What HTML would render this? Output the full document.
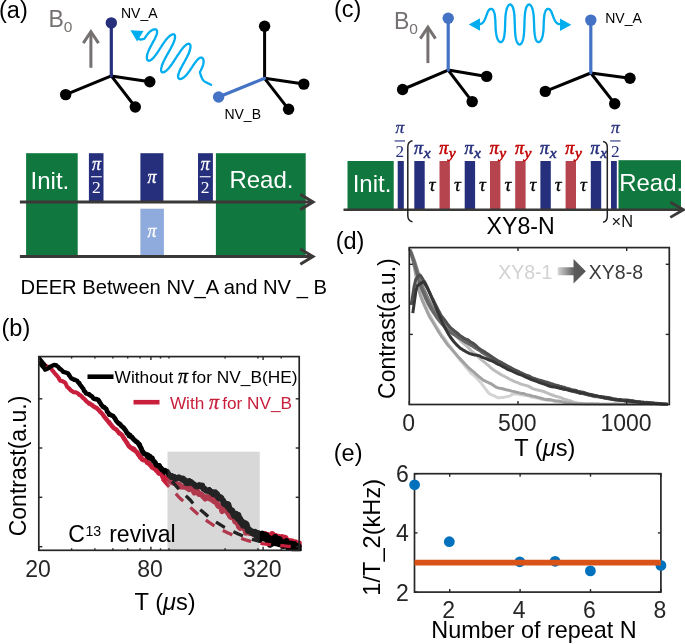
<!DOCTYPE html>
<html lang="en"><head><meta charset="utf-8"><title>Figure</title>
<style>html,body{margin:0;padding:0;background:#fff;}svg{display:block;}text{font-family:"Liberation Sans", sans-serif;}.m{font-family:"Liberation Serif", serif;font-style:italic;}.s{font-family:"Liberation Serif", serif;}.mb{font-family:"Liberation Serif", serif;font-style:italic;font-weight:bold;}</style></head><body>
<svg width="685" height="644" viewBox="0 0 685 644">
<rect width="685" height="644" fill="#fff"/>
<text x="-1" y="18" font-size="23.5" fill="#000">(a)</text>
<text x="1.5" y="336" font-size="23.5" fill="#000">(b)</text>
<text x="334" y="16.6" font-size="23.5" fill="#000">(c)</text>
<text x="335.7" y="248.6" font-size="23.5" fill="#000">(d)</text>
<text x="333.8" y="461.3" font-size="23.5" fill="#000">(e)</text>
<line x1="111.3" y1="75.9" x2="65.7" y2="94.6" stroke="#000" stroke-width="3" stroke-linecap="round"/>
<line x1="111.3" y1="75.9" x2="149.8" y2="81.8" stroke="#000" stroke-width="3" stroke-linecap="round"/>
<line x1="111.3" y1="75.9" x2="135.3" y2="107" stroke="#000" stroke-width="3" stroke-linecap="round"/>
<line x1="111.3" y1="75.9" x2="111.3" y2="22.9" stroke="#252f7c" stroke-width="3.2" stroke-linecap="round"/>
<circle cx="65.7" cy="94.6" r="5.7" fill="#000"/>
<circle cx="149.8" cy="81.8" r="5.7" fill="#000"/>
<circle cx="135.3" cy="107" r="5.7" fill="#000"/>
<circle cx="111.3" cy="22.9" r="5.7" fill="#252f7c"/>
<line x1="264.6" y1="78.3" x2="264.6" y2="26.2" stroke="#000" stroke-width="3" stroke-linecap="round"/>
<line x1="264.6" y1="78.3" x2="303.8" y2="84.1" stroke="#000" stroke-width="3" stroke-linecap="round"/>
<line x1="264.6" y1="78.3" x2="288.6" y2="109.3" stroke="#000" stroke-width="3" stroke-linecap="round"/>
<line x1="264.6" y1="78.3" x2="218.6" y2="97" stroke="#4472c4" stroke-width="3.2" stroke-linecap="round"/>
<circle cx="264.6" cy="26.2" r="5.7" fill="#000"/>
<circle cx="303.8" cy="84.1" r="5.7" fill="#000"/>
<circle cx="288.6" cy="109.3" r="5.7" fill="#000"/>
<circle cx="218.6" cy="97" r="5.7" fill="#4472c4"/>
<line x1="448.2" y1="70.1" x2="402.6" y2="89.5" stroke="#000" stroke-width="3" stroke-linecap="round"/>
<line x1="448.2" y1="70.1" x2="486.7" y2="76.4" stroke="#000" stroke-width="3" stroke-linecap="round"/>
<line x1="448.2" y1="70.1" x2="472.2" y2="101.6" stroke="#000" stroke-width="3" stroke-linecap="round"/>
<line x1="448.2" y1="70.1" x2="448.2" y2="18.2" stroke="#4472c4" stroke-width="3.2" stroke-linecap="round"/>
<circle cx="402.6" cy="89.5" r="5.7" fill="#000"/>
<circle cx="486.7" cy="76.4" r="5.7" fill="#000"/>
<circle cx="472.2" cy="101.6" r="5.7" fill="#000"/>
<circle cx="448.2" cy="18.2" r="5.7" fill="#4472c4"/>
<line x1="590.8" y1="73" x2="545.3" y2="91.4" stroke="#000" stroke-width="3" stroke-linecap="round"/>
<line x1="590.8" y1="73" x2="630" y2="78.3" stroke="#000" stroke-width="3" stroke-linecap="round"/>
<line x1="590.8" y1="73" x2="614.7" y2="103.7" stroke="#000" stroke-width="3" stroke-linecap="round"/>
<line x1="590.8" y1="73" x2="590.8" y2="20.1" stroke="#4472c4" stroke-width="3.2" stroke-linecap="round"/>
<circle cx="545.3" cy="91.4" r="5.7" fill="#000"/>
<circle cx="630" cy="78.3" r="5.7" fill="#000"/>
<circle cx="614.7" cy="103.7" r="5.7" fill="#000"/>
<circle cx="590.8" cy="20.1" r="5.7" fill="#4472c4"/>
<text x="48.5" y="26.8" font-size="23" fill="#767171">B<tspan font-size="15.5" dy="5">0</tspan></text>
<path d="M90.9 67.8 L90.9 31.7" stroke="#767171" stroke-width="3" fill="none"/>
<path d="M83.30000000000001 43.2 L90.9 31.7 L98.5 43.2" stroke="#767171" stroke-width="3" fill="none" stroke-linejoin="miter"/>
<text x="394" y="29.2" font-size="23" fill="#767171">B<tspan font-size="15.5" dy="5">0</tspan></text>
<path d="M427.9 63.1 L427.9 27.2" stroke="#767171" stroke-width="3" fill="none"/>
<path d="M420.29999999999995 38.7 L427.9 27.2 L435.5 38.7" stroke="#767171" stroke-width="3" fill="none" stroke-linejoin="miter"/>
<text x="121" y="17.5" font-size="14" fill="#000">NV_A</text>
<text x="224.4" y="119.2" font-size="14" fill="#000">NV_B</text>
<text x="605.2" y="22.9" font-size="14" fill="#000">NV_A</text>
<polyline points="479.4,24.2 480.0,24.1 480.7,24.0 481.3,23.7 481.9,23.4 482.4,23.0 482.9,22.5 483.4,22.0 483.8,21.4 484.2,20.7 484.6,20.0 484.9,19.3 485.2,18.6 485.6,17.8 485.9,17.0 486.2,16.2 486.4,15.4 486.7,14.7 487.0,13.9 487.3,13.2 487.6,12.5 487.8,11.8 488.1,11.2 488.4,10.7 488.8,10.2 489.1,9.8 489.4,9.5 489.8,9.2 490.2,9.1 490.7,9.0 490.7,9.0 490.8,9.0 491.0,8.9 491.2,8.9 491.3,8.9 491.5,8.9 491.7,9.0 491.9,9.0 492.0,9.1 492.2,9.2 492.4,9.3 492.5,9.4 492.7,9.5 492.8,9.7 493.0,9.8 493.1,10.0 493.3,10.2 493.4,10.4 493.5,10.7 493.6,10.9 493.8,11.2 493.9,11.5 494.0,11.7 494.1,12.1 494.2,12.4 494.3,12.7 494.4,13.1 494.5,13.4 494.6,13.8 494.7,14.2 494.7,14.6 494.8,15.0 494.9,15.4 494.9,15.9 495.0,16.3 495.0,16.7 495.1,17.2 495.1,17.7 495.2,18.2 495.2,18.6 495.2,19.1 495.3,19.6 495.3,20.1 495.3,20.6 495.4,21.1 495.4,21.6 495.4,22.2 495.4,22.7 495.4,23.2 495.5,23.7 495.5,24.2 495.5,24.8 495.5,25.3 495.5,25.8 495.6,26.3 495.6,26.8 495.6,27.4 495.6,27.9 495.6,28.4 495.7,28.9 495.7,29.4 495.7,29.9 495.8,30.4 495.8,30.9 495.9,31.4 495.9,31.8 496.0,32.3 496.0,32.8 496.1,33.2 496.2,33.7 496.2,34.1 496.3,34.6 496.4,35.0 496.5,35.4 496.6,35.8 496.6,36.2 496.7,36.6 496.9,37.0 497.0,37.3 497.1,37.7 497.2,38.0 497.3,38.4 497.4,38.7 497.6,39.0 497.7,39.3 497.9,39.6 498.0,39.9 498.2,40.1 498.3,40.4 498.5,40.6 498.6,40.8 498.8,41.0 499.0,41.2 499.1,41.4 499.3,41.5 499.5,41.6 499.6,41.8 499.8,41.9 500.0,41.9 500.2,42.0 500.3,42.1 500.5,42.1 500.7,42.1 500.9,42.1 501.0,42.1 501.2,42.0 501.4,42.0 501.5,41.9 501.7,41.8 501.9,41.7 502.0,41.5 502.2,41.4 502.3,41.2 502.5,41.0 502.6,40.8 502.8,40.6 502.9,40.3 503.1,40.0 503.2,39.8 503.3,39.5 503.4,39.1 503.6,38.8 503.7,38.5 503.8,38.1 503.9,37.7 504.0,37.3 504.1,36.9 504.2,36.5 504.2,36.0 504.3,35.6 504.4,35.1 504.5,34.6 504.5,34.1 504.6,33.6 504.6,33.1 504.7,32.6 504.7,32.1 504.8,31.5 504.8,31.0 504.9,30.4 504.9,29.9 504.9,29.3 505.0,28.8 505.0,28.2 505.0,27.6 505.0,27.0 505.1,26.4 505.1,25.8 505.1,25.2 505.1,24.6 505.1,24.1 505.1,23.5 505.2,22.9 505.2,22.3 505.2,21.7 505.2,21.1 505.3,20.5 505.3,19.9 505.3,19.3 505.3,18.8 505.4,18.2 505.4,17.6 505.4,17.1 505.5,16.5 505.5,16.0 505.6,15.4 505.6,14.9 505.7,14.4 505.7,13.9 505.8,13.4 505.9,12.9 506.0,12.4 506.0,11.9 506.1,11.5 506.2,11.0 506.3,10.6 506.4,10.1 506.5,9.7 506.6,9.3 506.7,8.9 506.9,8.6 507.0,8.2 507.1,7.9 507.3,7.5 507.4,7.2 507.5,6.9 507.7,6.6 507.8,6.4 508.0,6.1 508.1,5.9 508.3,5.7 508.5,5.5 508.6,5.3 508.8,5.1 509.0,5.0 509.1,4.9 509.3,4.8 509.5,4.7 509.7,4.6 509.8,4.6 510.0,4.5 510.2,4.5 510.4,4.5 510.5,4.6 510.7,4.6 510.9,4.7 511.0,4.8 511.2,4.9 511.4,5.0 511.5,5.2 511.7,5.4 511.9,5.6 512.0,5.8 512.2,6.0 512.3,6.3 512.5,6.5 512.6,6.8 512.7,7.1 512.9,7.5 513.0,7.8 513.1,8.2 513.2,8.5 513.3,8.9 513.4,9.3 513.6,9.8 513.6,10.2 513.7,10.6 513.8,11.1 513.9,11.6 514.0,12.1 514.1,12.6 514.1,13.1 514.2,13.6 514.3,14.2 514.3,14.7 514.4,15.3 514.4,15.9 514.4,16.4 514.5,17.0 514.5,17.6 514.6,18.2 514.6,18.8 514.6,19.4 514.6,20.1 514.7,20.7 514.7,21.3 514.7,21.9 514.7,22.6 514.7,23.2 514.8,23.8 514.8,24.5 514.8,25.1 514.8,25.7 514.8,26.4 514.9,27.0 514.9,27.6 514.9,28.2 514.9,28.9 515.0,29.5 515.0,30.1 515.0,30.7 515.1,31.3 515.1,31.9 515.1,32.5 515.2,33.0 515.2,33.6 515.3,34.2 515.3,34.7 515.4,35.2 515.5,35.8 515.5,36.3 515.6,36.8 515.7,37.3 515.8,37.8 515.9,38.2 516.0,38.7 516.1,39.1 516.2,39.6 516.3,40.0 516.4,40.4 516.5,40.7 516.7,41.1 516.8,41.5 516.9,41.8 517.1,42.1 517.2,42.4 517.4,42.7 517.5,42.9 517.7,43.2 517.8,43.4 518.0,43.6 518.1,43.8 518.3,43.9 518.5,44.1 518.6,44.2 518.8,44.3 519.0,44.4 519.2,44.4 519.3,44.5 519.5,44.5 519.7,44.5 519.9,44.5 520.0,44.4 520.2,44.4 520.4,44.3 520.6,44.2 520.7,44.1 520.9,43.9 521.1,43.8 521.2,43.6 521.4,43.4 521.5,43.2 521.7,42.9 521.8,42.7 522.0,42.4 522.1,42.1 522.3,41.8 522.4,41.5 522.5,41.1 522.7,40.7 522.8,40.4 522.9,40.0 523.0,39.6 523.1,39.1 523.2,38.7 523.3,38.2 523.4,37.8 523.5,37.3 523.6,36.8 523.7,36.3 523.7,35.8 523.8,35.2 523.9,34.7 523.9,34.2 524.0,33.6 524.0,33.0 524.1,32.5 524.1,31.9 524.1,31.3 524.2,30.7 524.2,30.1 524.2,29.5 524.3,28.9 524.3,28.2 524.3,27.6 524.3,27.0 524.4,26.4 524.4,25.7 524.4,25.1 524.4,24.5 524.4,23.8 524.5,23.2 524.5,22.6 524.5,21.9 524.5,21.3 524.5,20.7 524.6,20.1 524.6,19.4 524.6,18.8 524.6,18.2 524.7,17.6 524.7,17.0 524.8,16.4 524.8,15.9 524.8,15.3 524.9,14.7 524.9,14.2 525.0,13.6 525.1,13.1 525.1,12.6 525.2,12.1 525.3,11.6 525.4,11.1 525.5,10.6 525.6,10.2 525.6,9.8 525.8,9.3 525.9,8.9 526.0,8.5 526.1,8.2 526.2,7.8 526.3,7.5 526.5,7.1 526.6,6.8 526.7,6.5 526.9,6.3 527.0,6.0 527.2,5.8 527.3,5.6 527.5,5.4 527.7,5.2 527.8,5.0 528.0,4.9 528.2,4.8 528.3,4.7 528.5,4.6 528.7,4.6 528.8,4.5 529.0,4.5 529.2,4.5 529.4,4.6 529.5,4.6 529.7,4.7 529.9,4.8 530.1,4.9 530.2,5.0 530.4,5.1 530.6,5.3 530.7,5.5 530.9,5.7 531.1,5.9 531.2,6.1 531.4,6.4 531.5,6.6 531.7,6.9 531.8,7.2 531.9,7.5 532.1,7.9 532.2,8.2 532.3,8.6 532.5,8.9 532.6,9.3 532.7,9.7 532.8,10.1 532.9,10.6 533.0,11.0 533.1,11.5 533.2,11.9 533.2,12.4 533.3,12.9 533.4,13.4 533.5,13.9 533.5,14.4 533.6,14.9 533.6,15.4 533.7,16.0 533.7,16.5 533.8,17.1 533.8,17.6 533.8,18.2 533.9,18.8 533.9,19.3 533.9,19.9 533.9,20.5 534.0,21.1 534.0,21.7 534.0,22.3 534.0,22.9 534.1,23.5 534.1,24.1 534.1,24.6 534.1,25.2 534.1,25.8 534.1,26.4 534.2,27.0 534.2,27.6 534.2,28.2 534.2,28.8 534.3,29.3 534.3,29.9 534.3,30.4 534.4,31.0 534.4,31.5 534.5,32.1 534.5,32.6 534.6,33.1 534.6,33.6 534.7,34.1 534.7,34.6 534.8,35.1 534.9,35.6 535.0,36.0 535.0,36.5 535.1,36.9 535.2,37.3 535.3,37.7 535.4,38.1 535.5,38.5 535.6,38.8 535.8,39.1 535.9,39.5 536.0,39.8 536.1,40.0 536.3,40.3 536.4,40.6 536.6,40.8 536.7,41.0 536.9,41.2 537.0,41.4 537.2,41.5 537.3,41.7 537.5,41.8 537.7,41.9 537.8,42.0 538.0,42.0 538.2,42.1 538.3,42.1 538.5,42.1 538.7,42.1 538.9,42.1 539.0,42.0 539.2,41.9 539.4,41.9 539.6,41.8 539.7,41.6 539.9,41.5 540.1,41.4 540.2,41.2 540.4,41.0 540.6,40.8 540.7,40.6 540.9,40.4 541.0,40.1 541.2,39.9 541.3,39.6 541.5,39.3 541.6,39.0 541.8,38.7 541.9,38.4 542.0,38.0 542.1,37.7 542.2,37.3 542.3,37.0 542.5,36.6 542.6,36.2 542.6,35.8 542.7,35.4 542.8,35.0 542.9,34.6 543.0,34.1 543.0,33.7 543.1,33.2 543.2,32.8 543.2,32.3 543.3,31.8 543.3,31.4 543.4,30.9 543.4,30.4 543.5,29.9 543.5,29.4 543.5,28.9 543.6,28.4 543.6,27.9 543.6,27.4 543.6,26.8 543.6,26.3 543.7,25.8 543.7,25.3 543.7,24.8 543.7,24.2 543.7,23.7 543.8,23.2 543.8,22.7 543.8,22.2 543.8,21.6 543.8,21.1 543.9,20.6 543.9,20.1 543.9,19.6 544.0,19.1 544.0,18.6 544.0,18.2 544.1,17.7 544.1,17.2 544.2,16.7 544.2,16.3 544.3,15.9 544.3,15.4 544.4,15.0 544.5,14.6 544.5,14.2 544.6,13.8 544.7,13.4 544.8,13.1 544.9,12.7 545.0,12.4 545.1,12.1 545.2,11.7 545.3,11.5 545.4,11.2 545.6,10.9 545.7,10.7 545.8,10.4 545.9,10.2 546.1,10.0 546.2,9.8 546.4,9.7 546.5,9.5 546.7,9.4 546.8,9.3 547.0,9.2 547.2,9.1 547.3,9.0 547.5,9.0 547.7,8.9 547.9,8.9 548.0,8.9 548.2,8.9 548.4,9.0 548.6,9.0 548.6,9.0 549.0,9.1 549.4,9.2 549.8,9.5 550.1,9.8 550.4,10.2 550.8,10.7 551.1,11.2 551.4,11.8 551.6,12.5 551.9,13.2 552.2,13.9 552.5,14.7 552.8,15.4 553.0,16.2 553.3,17.0 553.6,17.8 554.0,18.6 554.3,19.3 554.6,20.0 555.0,20.7 555.4,21.4 555.8,22.0 556.3,22.5 556.8,23.0 557.3,23.4 557.9,23.7 558.5,24.0 559.2,24.1 559.9,24.2" fill="none" stroke="#00aeef" stroke-width="2.3" stroke-linejoin="round" stroke-linecap="round"/>
<path d="M468.8 24.5 L480 18.3 L480 30.7 Z" fill="#00aeef"/>
<path d="M571.3 24.8 L560 18.6 L560 31 Z" fill="#00aeef"/>
<polyline points="137.3,34.4 137.3,34.8 137.4,35.3 137.5,35.7 137.6,36.1 137.7,36.5 137.8,36.9 137.9,37.2 138.0,37.6 138.2,37.9 138.3,38.2 138.5,38.4 138.7,38.7 138.9,38.9 139.1,39.1 139.4,39.2 139.7,39.3 139.9,39.4 140.2,39.5 140.6,39.5 140.9,39.5 141.2,39.5 141.6,39.4 142.0,39.4 142.3,39.3 142.7,39.2 143.1,39.1 143.5,39.0 144.0,38.8 144.4,38.7 144.4,38.7 144.6,38.3 144.9,38.0 145.1,37.6 145.4,37.2 145.6,36.9 145.8,36.5 146.1,36.2 146.3,35.8 146.6,35.5 146.8,35.1 147.1,34.8 147.4,34.4 147.6,34.1 147.9,33.8 148.1,33.5 148.4,33.2 148.7,32.9 148.9,32.6 149.2,32.4 149.5,32.1 149.7,31.8 150.0,31.6 150.3,31.4 150.6,31.1 150.8,30.9 151.1,30.7 151.4,30.5 151.7,30.4 151.9,30.2 152.2,30.0 152.5,29.9 152.8,29.8 153.0,29.7 153.3,29.6 153.6,29.5 153.8,29.4 154.1,29.4 154.3,29.3 154.6,29.3 154.8,29.3 155.0,29.3 155.2,29.3 155.4,29.3 155.6,29.4 155.8,29.5 156.0,29.5 156.2,29.6 156.3,29.8 156.5,29.9 156.6,30.0 156.7,30.2 156.8,30.4 156.9,30.6 157.0,30.8 157.0,31.0 157.0,31.3 157.1,31.5 157.1,31.8 157.1,32.1 157.0,32.4 157.0,32.7 157.0,33.1 156.9,33.4 156.8,33.8 156.7,34.1 156.6,34.5 156.5,34.9 156.3,35.3 156.2,35.7 156.0,36.1 155.8,36.6 155.6,37.0 155.4,37.5 155.2,37.9 155.0,38.4 154.8,38.8 154.5,39.3 154.3,39.8 154.0,40.3 153.8,40.7 153.5,41.2 153.3,41.7 153.0,42.2 152.7,42.7 152.5,43.2 152.2,43.7 151.9,44.2 151.6,44.7 151.4,45.1 151.1,45.6 150.8,46.1 150.6,46.6 150.3,47.1 150.1,47.6 149.8,48.1 149.6,48.6 149.4,49.0 149.1,49.5 148.9,50.0 148.7,50.4 148.5,50.9 148.3,51.4 148.1,51.8 148.0,52.3 147.8,52.7 147.7,53.1 147.5,53.6 147.4,54.0 147.3,54.4 147.2,54.8 147.1,55.2 147.0,55.6 147.0,56.0 146.9,56.3 146.9,56.7 146.9,57.1 146.8,57.4 146.9,57.7 146.9,58.0 146.9,58.3 146.9,58.6 147.0,58.9 147.1,59.2 147.1,59.4 147.2,59.6 147.3,59.8 147.4,60.0 147.6,60.2 147.7,60.3 147.9,60.4 148.0,60.6 148.2,60.6 148.4,60.7 148.6,60.7 148.8,60.8 149.0,60.8 149.2,60.7 149.5,60.7 149.7,60.6 150.0,60.5 150.2,60.4 150.5,60.3 150.8,60.1 151.1,59.9 151.4,59.7 151.7,59.5 152.0,59.2 152.3,58.9 152.6,58.6 152.9,58.3 153.2,58.0 153.5,57.6 153.9,57.2 154.2,56.9 154.6,56.4 154.9,56.0 155.2,55.6 155.6,55.1 155.9,54.6 156.3,54.2 156.6,53.7 157.0,53.2 157.3,52.7 157.7,52.1 158.0,51.6 158.4,51.1 158.8,50.5 159.1,50.0 159.5,49.4 159.8,48.9 160.2,48.3 160.5,47.7 160.9,47.2 161.3,46.6 161.6,46.1 162.0,45.5 162.3,45.0 162.7,44.5 163.0,43.9 163.4,43.4 163.8,42.9 164.1,42.4 164.5,41.9 164.8,41.4 165.2,40.9 165.5,40.4 165.9,40.0 166.2,39.5 166.6,39.1 166.9,38.7 167.3,38.3 167.6,37.9 168.0,37.6 168.3,37.2 168.7,36.9 169.0,36.6 169.3,36.3 169.7,36.0 170.0,35.7 170.3,35.5 170.6,35.3 170.9,35.1 171.2,34.9 171.5,34.8 171.8,34.6 172.1,34.5 172.4,34.4 172.6,34.4 172.9,34.3 173.1,34.3 173.3,34.3 173.6,34.3 173.8,34.3 173.9,34.4 174.1,34.5 174.3,34.6 174.4,34.7 174.6,34.9 174.7,35.1 174.8,35.3 174.9,35.5 174.9,35.7 175.0,36.0 175.0,36.3 175.0,36.6 175.1,36.9 175.0,37.2 175.0,37.6 175.0,37.9 174.9,38.3 174.8,38.7 174.7,39.2 174.6,39.6 174.5,40.1 174.3,40.5 174.1,41.0 174.0,41.5 173.8,42.0 173.6,42.5 173.3,43.1 173.1,43.6 172.8,44.2 172.6,44.7 172.3,45.3 172.0,45.9 171.7,46.4 171.4,47.0 171.1,47.6 170.8,48.2 170.5,48.8 170.1,49.5 169.8,50.1 169.5,50.7 169.1,51.3 168.8,51.9 168.4,52.5 168.1,53.2 167.7,53.8 167.4,54.4 167.0,55.0 166.7,55.6 166.3,56.3 166.0,56.9 165.7,57.5 165.3,58.1 165.0,58.7 164.7,59.3 164.4,59.9 164.1,60.5 163.8,61.0 163.6,61.6 163.3,62.2 163.1,62.7 162.8,63.3 162.6,63.8 162.4,64.3 162.2,64.8 162.0,65.3 161.9,65.8 161.7,66.3 161.6,66.8 161.5,67.2 161.4,67.6 161.3,68.1 161.2,68.5 161.1,68.9 161.1,69.2 161.1,69.6 161.1,69.9 161.1,70.2 161.1,70.5 161.2,70.8 161.2,71.0 161.3,71.3 161.4,71.5 161.5,71.7 161.7,71.8 161.8,72.0 161.9,72.1 162.1,72.2 162.3,72.3 162.5,72.3 162.7,72.4 162.9,72.4 163.2,72.4 163.4,72.3 163.7,72.2 163.9,72.2 164.2,72.0 164.5,71.9 164.8,71.7 165.1,71.6 165.4,71.3 165.7,71.1 166.0,70.9 166.4,70.6 166.7,70.3 167.0,70.0 167.4,69.6 167.7,69.3 168.1,68.9 168.5,68.5 168.8,68.1 169.2,67.7 169.5,67.2 169.9,66.8 170.3,66.3 170.7,65.8 171.0,65.3 171.4,64.8 171.8,64.3 172.2,63.7 172.5,63.2 172.9,62.6 173.3,62.0 173.7,61.5 174.1,60.9 174.4,60.3 174.8,59.7 175.2,59.1 175.6,58.5 176.0,57.9 176.4,57.3 176.7,56.7 177.1,56.1 177.5,55.5 177.9,55.0 178.3,54.4 178.7,53.8 179.0,53.2 179.4,52.7 179.8,52.1 180.2,51.6 180.5,51.0 180.9,50.5 181.3,50.0 181.6,49.5 182.0,49.1 182.4,48.6 182.7,48.2 183.1,47.7 183.5,47.3 183.8,46.9 184.1,46.6 184.5,46.2 184.8,45.9 185.2,45.6 185.5,45.3 185.8,45.0 186.1,44.8 186.4,44.6 186.7,44.4 187.0,44.2 187.3,44.1 187.5,44.0 187.8,43.9 188.1,43.8 188.3,43.8 188.5,43.7 188.7,43.7 189.0,43.8 189.2,43.8 189.3,43.9 189.5,44.0 189.7,44.1 189.8,44.3 189.9,44.4 190.1,44.6 190.2,44.8 190.2,45.0 190.3,45.3 190.4,45.5 190.4,45.8 190.5,46.1 190.5,46.4 190.5,46.8 190.5,47.1 190.4,47.5 190.4,47.9 190.3,48.2 190.2,48.6 190.2,49.1 190.1,49.5 189.9,49.9 189.8,50.4 189.7,50.8 189.5,51.3 189.3,51.8 189.2,52.3 189.0,52.8 188.8,53.3 188.5,53.8 188.3,54.3 188.1,54.8 187.8,55.4 187.6,55.9 187.3,56.4 187.0,57.0 186.7,57.5 186.4,58.1 186.1,58.6 185.8,59.2 185.5,59.8 185.2,60.3 184.9,60.9 184.6,61.5 184.3,62.0 184.0,62.6 183.7,63.2 183.3,63.7 183.0,64.3 182.7,64.9 182.4,65.4 182.1,66.0 181.8,66.5 181.5,67.1 181.2,67.6 181.0,68.2 180.7,68.7 180.4,69.2 180.2,69.7 180.0,70.2 179.7,70.7 179.5,71.2 179.3,71.7 179.1,72.2 179.0,72.6 178.8,73.1 178.7,73.5 178.5,73.9 178.4,74.4 178.3,74.7 178.3,75.1 178.2,75.5 178.2,75.8 178.1,76.2 178.1,76.5 178.1,76.8 178.1,77.1 178.2,77.3 178.2,77.6 178.3,77.8 178.4,78.0 178.5,78.2 178.6,78.3 178.8,78.5 178.9,78.6 179.1,78.7 179.2,78.8 179.4,78.9 179.6,79.0 179.8,79.0 180.0,79.0 180.3,79.0 180.5,79.0 180.8,78.9 181.0,78.9 181.3,78.8 181.6,78.7 181.8,78.6 182.1,78.4 182.4,78.3 182.7,78.1 183.0,78.0 183.3,77.8 183.6,77.5 183.9,77.3 184.2,77.1 184.5,76.8 184.8,76.5 185.1,76.3 185.4,76.0 185.7,75.6 186.0,75.3 186.4,75.0 186.7,74.6 187.0,74.3 187.3,73.9 187.6,73.5 187.9,73.1 188.2,72.7 188.5,72.3 188.8,71.9 189.1,71.5 189.4,71.1 189.7,70.6 190.0,70.2 190.3,69.7 190.6,69.3 190.9,68.8 191.2,68.4 191.5,67.9 191.8,67.5 192.1,67.0 192.4,66.6 192.7,66.1 193.0,65.7 193.3,65.2 193.6,64.8 193.9,64.3 194.2,63.9 194.5,63.5 194.8,63.1 195.1,62.6 195.4,62.3 195.7,61.9 196.0,61.5 196.2,61.1 196.5,60.8 196.8,60.5 197.1,60.1 197.4,59.8 197.7,59.6 197.9,59.3 198.2,59.0 198.5,58.8 198.8,58.6 199.0,58.4 199.3,58.2 199.5,58.1 199.8,57.9 200.0,57.8 200.3,57.7 200.5,57.7 200.7,57.6 200.9,57.6 201.1,57.6 201.3,57.6 201.5,57.6 201.7,57.6 201.9,57.7 202.1,57.8 202.2,57.9 202.4,58.0 202.5,58.2 202.7,58.3 202.8,58.5 202.9,58.7 203.0,58.8 203.1,59.1 203.2,59.3 203.3,59.5 203.4,59.8 203.4,60.0 203.5,60.3 203.5,60.6 203.6,60.8 203.6,61.1 203.6,61.4 203.6,61.7 203.6,62.1 203.6,62.4 203.5,62.7 203.5,63.0 203.4,63.4 203.4,63.7 203.3,64.0 203.2,64.4 203.1,64.7 203.0,65.1 202.9,65.4 202.8,65.8 202.7,66.2 202.6,66.5 202.4,66.9 202.3,67.2 202.1,67.6 201.9,68.0 201.8,68.3 201.6,68.7 201.4,69.1 201.2,69.4 201.1,69.8 200.9,70.2 200.7,70.6 200.5,70.9 200.3,71.3 200.1,71.7 199.9,72.0 199.9,72.0 200.0,72.6 200.2,73.1 200.3,73.7 200.5,74.2 200.7,74.8 200.8,75.3 201.0,75.8 201.2,76.3 201.4,76.8 201.6,77.3 201.8,77.8 202.0,78.2 202.2,78.6 202.5,79.1 202.7,79.5 203.0,79.8 203.2,80.2 203.5,80.5 203.8,80.8 204.1,81.1 204.5,81.4 204.8,81.6 205.2,81.9 205.5,82.0 205.9,82.2 206.3,82.4 206.6,82.6 207.0,82.8 207.4,83.0 207.8,83.2 208.1,83.4 208.5,83.6 208.9,83.7 209.3,83.9 209.6,84.1 210.0,84.3 210.4,84.5 210.8,84.7 211.1,84.9" fill="none" stroke="#00aeef" stroke-width="2.3" stroke-linejoin="round" stroke-linecap="round"/>
<path d="M130.4 30.3 L143.5 30.9 L137.1 41.5 Z" fill="#00aeef"/>
<rect x="26.1" y="153.2" width="51.6" height="102.6" fill="#10783e"/>
<rect x="215.9" y="153.2" width="89.8" height="102.6" fill="#10783e"/>
<rect x="88.9" y="153.2" width="14.6" height="48" fill="#252f7c"/>
<rect x="140.4" y="153.2" width="23" height="48" fill="#252f7c"/>
<rect x="198" y="153.2" width="14.9" height="48" fill="#252f7c"/>
<rect x="140.4" y="208.7" width="23.5" height="47" fill="#8faadc"/>
<path d="M19.9 202 L312.5 202" stroke="#3b3838" stroke-width="3" fill="none"/>
<path d="M300.3 194.4 L313 202 L300.3 209.6" stroke="#3b3838" stroke-width="3" fill="none"/>
<path d="M19.9 256.6 L312.5 256.6" stroke="#3b3838" stroke-width="3" fill="none"/>
<path d="M300.3 249.00000000000003 L313 256.6 L300.3 264.20000000000005" stroke="#3b3838" stroke-width="3" fill="none"/>
<text x="30.6" y="188.9" font-size="24" fill="#fff">Init.</text>
<text x="229.4" y="187.9" font-size="24" fill="#fff">Read.</text>
<text class="m" x="96.4" y="169.8" font-size="18" fill="#fff" stroke="#fff" stroke-width="0.3" text-anchor="middle">π</text>
<rect x="91.0" y="176.2" width="10.8" height="1.1" fill="#fff"/>
<text x="96.4" y="193.2" font-size="17.5" fill="#fff" text-anchor="middle" class="s">2</text>
<text class="m" x="205.2" y="169.8" font-size="18" fill="#fff" stroke="#fff" stroke-width="0.3" text-anchor="middle">π</text>
<rect x="199.79999999999998" y="176.2" width="10.8" height="1.1" fill="#fff"/>
<text x="205.2" y="193.2" font-size="17.5" fill="#fff" text-anchor="middle" class="s">2</text>
<text class="m" x="152" y="183.4" font-size="18" fill="#fff" stroke="#fff" stroke-width="0.3" text-anchor="middle">π</text>
<text class="m" x="152" y="236.6" font-size="18" fill="#fff" stroke="#fff" stroke-width="0.3" text-anchor="middle">π</text>
<text x="20.6" y="293.5" font-size="20.2" fill="#000">DEER Between NV_A and NV _ B</text>
<rect x="347.5" y="161" width="46.2" height="48" fill="#10783e"/>
<rect x="618.5" y="160.2" width="62.5" height="49" fill="#10783e"/>
<rect x="397.7" y="161" width="6.1" height="48" fill="#252f7c"/>
<rect x="611" y="161" width="5.8" height="48" fill="#252f7c"/>
<rect x="414.3" y="161" width="10.4" height="48" fill="#252f7c"/>
<text x="414.0" y="154" font-size="18" fill="#252f7c" stroke="#252f7c" stroke-width="0.55" class="m">π<tspan font-size="15.5" dy="3.6" dx="0.6">x</tspan></text>
<text class="m" x="432.1" y="191" font-size="19" fill="#000" stroke="#000" stroke-width="0.3" text-anchor="middle">τ</text>
<rect x="439.5" y="161" width="10.4" height="48" fill="#b5444f"/>
<text x="439.2" y="154" font-size="18" fill="#c00000" stroke="#c00000" stroke-width="0.55" class="m">π<tspan font-size="15.5" dy="3.6" dx="0.6">y</tspan></text>
<text class="m" x="457.3" y="191" font-size="19" fill="#000" stroke="#000" stroke-width="0.3" text-anchor="middle">τ</text>
<rect x="464.7" y="161" width="10.4" height="48" fill="#252f7c"/>
<text x="464.4" y="154" font-size="18" fill="#252f7c" stroke="#252f7c" stroke-width="0.55" class="m">π<tspan font-size="15.5" dy="3.6" dx="0.6">x</tspan></text>
<text class="m" x="482.5" y="191" font-size="19" fill="#000" stroke="#000" stroke-width="0.3" text-anchor="middle">τ</text>
<rect x="490.0" y="161" width="10.4" height="48" fill="#b5444f"/>
<text x="489.7" y="154" font-size="18" fill="#c00000" stroke="#c00000" stroke-width="0.55" class="m">π<tspan font-size="15.5" dy="3.6" dx="0.6">y</tspan></text>
<text class="m" x="507.8" y="191" font-size="19" fill="#000" stroke="#000" stroke-width="0.3" text-anchor="middle">τ</text>
<rect x="515.2" y="161" width="10.4" height="48" fill="#b5444f"/>
<text x="514.9" y="154" font-size="18" fill="#c00000" stroke="#c00000" stroke-width="0.55" class="m">π<tspan font-size="15.5" dy="3.6" dx="0.6">y</tspan></text>
<text class="m" x="533.0" y="191" font-size="19" fill="#000" stroke="#000" stroke-width="0.3" text-anchor="middle">τ</text>
<rect x="540.4" y="161" width="10.4" height="48" fill="#252f7c"/>
<text x="540.1" y="154" font-size="18" fill="#252f7c" stroke="#252f7c" stroke-width="0.55" class="m">π<tspan font-size="15.5" dy="3.6" dx="0.6">x</tspan></text>
<text class="m" x="558.2" y="191" font-size="19" fill="#000" stroke="#000" stroke-width="0.3" text-anchor="middle">τ</text>
<rect x="565.6" y="161" width="10.4" height="48" fill="#b5444f"/>
<text x="565.3" y="154" font-size="18" fill="#c00000" stroke="#c00000" stroke-width="0.55" class="m">π<tspan font-size="15.5" dy="3.6" dx="0.6">y</tspan></text>
<text class="m" x="583.4" y="191" font-size="19" fill="#000" stroke="#000" stroke-width="0.3" text-anchor="middle">τ</text>
<rect x="590.8" y="161" width="10.4" height="48" fill="#252f7c"/>
<text x="590.5" y="154" font-size="18" fill="#252f7c" stroke="#252f7c" stroke-width="0.55" class="m">π<tspan font-size="15.5" dy="3.6" dx="0.6">x</tspan></text>
<path d="M343.5 209.8 L683 209.8" stroke="#3b3838" stroke-width="2.6" fill="none"/>
<path d="M670.3 202.3 L683.4 209.8 L670.3 217.4" stroke="#3b3838" stroke-width="2.8" fill="none"/>
<path d="M412.5 140.8 Q407.8 141.5 407.8 147 L407.8 215.5 Q407.8 221 412.5 221.8" stroke="#222" stroke-width="1.5" fill="none"/>
<path d="M603 141.5 Q607.3 142 607.3 147.5 L607.3 216 Q607.3 221.5 603 222.2" stroke="#222" stroke-width="1.5" fill="none"/>
<text class="m" x="399.8" y="133" font-size="17.5" fill="#252f7c" stroke="#252f7c" stroke-width="0.3" text-anchor="middle">π</text>
<rect x="394.6" y="140.4" width="10.4" height="1.1" fill="#252f7c"/>
<text x="399.8" y="156.7" font-size="17.3" fill="#252f7c" text-anchor="middle" class="s">2</text>
<text class="m" x="615.3" y="133" font-size="17.5" fill="#252f7c" stroke="#252f7c" stroke-width="0.3" text-anchor="middle">π</text>
<rect x="610.0999999999999" y="140.4" width="10.4" height="1.1" fill="#252f7c"/>
<text x="615.3" y="156.7" font-size="17.3" fill="#252f7c" text-anchor="middle" class="s">2</text>
<text x="352.7" y="191.8" font-size="24" fill="#fff">Init.</text>
<text x="619.2" y="190.6" font-size="24" fill="#fff">Read.</text>
<text x="486.6" y="233.7" font-size="23.1" fill="#000">XY8-N</text>
<text x="611.6" y="227.3" font-size="16.4" fill="#111">×N</text>
<clipPath id="cb"><rect x="38.8" y="356.6" width="262.9" height="194.69999999999993"/></clipPath>
<g clip-path="url(#cb)">
<polyline points="39.2,362.5 40.2,362.3 41.2,363.1 42.2,363.7 43.2,363.8 44.2,364.4 45.2,365.6 46.2,366.0 47.2,366.4 48.2,367.4 49.2,367.5" fill="none" stroke="#c8203c" stroke-width="4.01" stroke-linejoin="round" stroke-linecap="round"/>
<polyline points="49.2,367.5 50.2,368.1 51.2,368.7 52.2,370.2 53.2,371.2 54.2,372.7 55.2,373.7 56.2,375.0 57.2,376.0 58.2,377.2 59.2,379.0" fill="none" stroke="#c8203c" stroke-width="4.05" stroke-linejoin="round" stroke-linecap="round"/>
<polyline points="59.2,379.0 60.2,380.7 61.2,380.9 62.2,381.1 63.2,381.7 64.2,382.0 65.2,382.8 66.2,384.7 67.2,387.0 68.2,387.6 69.2,388.6" fill="none" stroke="#c8203c" stroke-width="4.10" stroke-linejoin="round" stroke-linecap="round"/>
<polyline points="69.2,388.6 70.2,389.7 71.2,390.7 72.2,391.2 73.2,392.0 74.2,392.3 75.2,392.2 76.2,392.6 77.2,392.9 78.2,393.6 79.2,394.7" fill="none" stroke="#c8203c" stroke-width="4.16" stroke-linejoin="round" stroke-linecap="round"/>
<polyline points="79.2,394.7 80.2,395.1 81.2,395.9 82.2,397.0 83.2,398.1 84.2,398.7 85.2,400.0 86.2,401.0 87.2,402.0 88.2,402.6 89.2,403.6" fill="none" stroke="#c8203c" stroke-width="4.24" stroke-linejoin="round" stroke-linecap="round"/>
<polyline points="89.2,403.6 90.2,403.7 91.2,404.8 92.2,404.8 93.2,406.5 94.2,406.5 95.2,407.5 96.2,407.6 97.2,408.6 98.2,409.6 99.2,410.5" fill="none" stroke="#c8203c" stroke-width="4.32" stroke-linejoin="round" stroke-linecap="round"/>
<polyline points="99.2,410.5 100.2,411.8 101.2,412.7 102.2,413.7 103.2,415.1 104.2,416.7 105.2,417.8 106.2,419.1 107.2,420.1 108.2,421.6 109.2,422.5" fill="none" stroke="#c8203c" stroke-width="4.41" stroke-linejoin="round" stroke-linecap="round"/>
<polyline points="109.2,422.5 110.2,424.0 111.2,424.9 112.2,426.4 113.2,427.4 114.2,428.5 115.2,428.9 116.2,429.4 117.2,430.8 118.2,431.8 119.2,433.2" fill="none" stroke="#c8203c" stroke-width="4.51" stroke-linejoin="round" stroke-linecap="round"/>
<polyline points="119.2,433.2 120.2,433.6 121.2,434.3 122.2,435.5 123.2,437.1 124.2,438.9 125.2,440.2 126.2,441.7 127.2,443.3 128.2,445.0 129.2,446.4" fill="none" stroke="#c8203c" stroke-width="4.62" stroke-linejoin="round" stroke-linecap="round"/>
<polyline points="129.2,446.4 130.2,447.1 131.2,448.2 132.2,448.2 133.2,449.6 134.2,449.2 135.2,450.8 136.2,451.6 137.2,452.5 138.2,454.6 139.2,455.0" fill="none" stroke="#c8203c" stroke-width="4.73" stroke-linejoin="round" stroke-linecap="round"/>
<polyline points="139.2,455.0 140.2,457.3 141.2,457.9 142.2,459.4 143.2,460.0 144.2,459.9 145.2,460.4 146.2,460.5 147.2,462.7 148.2,462.9 149.2,463.8" fill="none" stroke="#c8203c" stroke-width="4.85" stroke-linejoin="round" stroke-linecap="round"/>
<polyline points="149.2,463.8 150.2,464.9 151.2,465.7 152.2,467.4 153.2,467.6 154.2,468.7 155.2,468.6 156.2,470.4 157.2,470.8 158.2,472.5 159.2,473.1" fill="none" stroke="#c8203c" stroke-width="4.97" stroke-linejoin="round" stroke-linecap="round"/>
<polyline points="159.2,473.1 160.2,472.6 161.2,473.4 162.2,475.5 163.2,477.7 164.2,477.1 165.2,477.5 166.2,478.6 167.2,478.5 168.2,479.9 169.2,480.3" fill="none" stroke="#c8203c" stroke-width="5.10" stroke-linejoin="round" stroke-linecap="round"/>
<polyline points="169.2,480.3 170.2,481.8 171.2,481.8 172.2,482.7 173.2,482.8 174.2,482.7 175.2,483.6 176.2,483.3 177.2,484.3 178.2,484.2 179.2,484.7" fill="none" stroke="#c8203c" stroke-width="5.24" stroke-linejoin="round" stroke-linecap="round"/>
<polyline points="179.2,484.7 180.2,486.8 181.2,486.3 182.2,486.8 183.2,487.0 184.2,486.7 185.2,487.2 186.2,487.7 187.2,488.3 188.2,487.6 189.2,489.3" fill="none" stroke="#c8203c" stroke-width="5.38" stroke-linejoin="round" stroke-linecap="round"/>
<polyline points="189.2,489.3 190.2,488.4 191.2,488.7 192.2,489.5 193.2,490.3 194.2,492.8 195.2,490.6 196.2,492.3 197.2,490.5 198.2,493.0 199.2,494.0" fill="none" stroke="#c8203c" stroke-width="5.52" stroke-linejoin="round" stroke-linecap="round"/>
<polyline points="199.2,494.0 200.2,494.0 201.2,494.2 202.2,495.3 203.2,496.6 204.2,497.2 205.2,498.7 206.2,497.4 207.2,496.9 208.2,497.5 209.2,498.0" fill="none" stroke="#c8203c" stroke-width="5.67" stroke-linejoin="round" stroke-linecap="round"/>
<polyline points="209.2,498.0 210.2,498.9 211.2,498.9 212.2,499.8 213.2,498.4 214.2,501.2 215.2,500.6 216.2,501.4 217.2,504.1 218.2,505.8 219.2,505.9" fill="none" stroke="#c8203c" stroke-width="5.83" stroke-linejoin="round" stroke-linecap="round"/>
<polyline points="219.2,505.9 220.2,506.8 221.2,506.4 222.2,511.1 223.2,509.6 224.2,508.4 225.2,508.9 226.2,510.6 227.2,509.8 228.2,513.0 229.2,513.4" fill="none" stroke="#c8203c" stroke-width="5.98" stroke-linejoin="round" stroke-linecap="round"/>
<polyline points="229.2,513.4 230.2,516.2 231.2,516.9 232.2,513.4 233.2,517.6 234.2,516.5 235.2,521.3 236.2,521.0 237.2,523.0 238.2,522.1 239.2,526.5" fill="none" stroke="#c8203c" stroke-width="6.15" stroke-linejoin="round" stroke-linecap="round"/>
<polyline points="239.2,526.5 240.2,527.7 241.2,524.8 242.2,527.2 243.2,526.4 244.2,528.5 245.2,527.6 246.2,532.5 247.2,529.6 248.2,531.1 249.2,532.4" fill="none" stroke="#c8203c" stroke-width="6.31" stroke-linejoin="round" stroke-linecap="round"/>
<polyline points="249.2,532.4 250.2,531.4 251.2,532.5 252.2,532.4 253.2,533.5 254.2,532.5 255.2,533.9 256.2,534.6 257.2,534.7 258.2,535.7 259.2,535.4" fill="none" stroke="#c8203c" stroke-width="6.48" stroke-linejoin="round" stroke-linecap="round"/>
<polyline points="259.2,535.4 260.2,537.1 261.2,535.7 262.2,536.0 263.2,535.2 264.2,535.6 265.2,534.6 266.2,537.3 267.2,535.1 268.2,535.9 269.2,537.6" fill="none" stroke="#c8203c" stroke-width="6.66" stroke-linejoin="round" stroke-linecap="round"/>
<polyline points="269.2,537.6 270.2,537.8 271.2,536.8 272.2,534.5 273.2,538.4 274.2,538.4 275.2,536.2 276.2,539.8 277.2,537.7 278.2,537.3 279.2,539.5" fill="none" stroke="#c8203c" stroke-width="6.84" stroke-linejoin="round" stroke-linecap="round"/>
<polyline points="279.2,539.5 280.2,539.3 281.2,540.3 282.2,537.5 283.2,543.3 284.2,539.6 285.2,538.4 286.2,542.2 287.2,541.0 288.2,542.5 289.2,541.7" fill="none" stroke="#c8203c" stroke-width="7.02" stroke-linejoin="round" stroke-linecap="round"/>
<polyline points="289.2,541.7 290.2,542.6 291.2,543.5 292.2,542.1 293.2,544.9 294.2,543.3 295.2,542.9 296.2,544.9 297.2,546.0 298.2,545.1 299.2,544.2" fill="none" stroke="#c8203c" stroke-width="7.21" stroke-linejoin="round" stroke-linecap="round"/>
<polyline points="39.2,363.6 40.2,363.2 41.2,364.7 42.2,365.9 43.2,366.9 44.2,368.2 45.2,369.8 46.2,369.2 47.2,368.9 48.2,368.3 49.2,367.5" fill="none" stroke="#000" stroke-width="4.21" stroke-linejoin="round" stroke-linecap="round"/>
<polyline points="49.2,367.5 50.2,366.6 51.2,366.4 52.2,365.5 53.2,365.4 54.2,364.8 55.2,365.2 56.2,365.1 57.2,366.3 58.2,366.9 59.2,368.2" fill="none" stroke="#000" stroke-width="4.25" stroke-linejoin="round" stroke-linecap="round"/>
<polyline points="59.2,368.2 60.2,369.0 61.2,369.8 62.2,370.6 63.2,371.9 64.2,372.2 65.2,372.4 66.2,372.6 67.2,373.3 68.2,373.4 69.2,375.3" fill="none" stroke="#000" stroke-width="4.30" stroke-linejoin="round" stroke-linecap="round"/>
<polyline points="69.2,375.3 70.2,376.8 71.2,378.2 72.2,378.7 73.2,379.2 74.2,379.8 75.2,379.8 76.2,380.4 77.2,380.8 78.2,382.5 79.2,383.2" fill="none" stroke="#000" stroke-width="4.36" stroke-linejoin="round" stroke-linecap="round"/>
<polyline points="79.2,383.2 80.2,384.9 81.2,386.0 82.2,387.7 83.2,388.6 84.2,391.1 85.2,391.8 86.2,393.6 87.2,393.6 88.2,394.3 89.2,394.4" fill="none" stroke="#000" stroke-width="4.44" stroke-linejoin="round" stroke-linecap="round"/>
<polyline points="89.2,394.4 90.2,395.4 91.2,395.9 92.2,396.6 93.2,398.2 94.2,398.9 95.2,399.2 96.2,398.9 97.2,399.6 98.2,399.7 99.2,401.5" fill="none" stroke="#000" stroke-width="4.52" stroke-linejoin="round" stroke-linecap="round"/>
<polyline points="99.2,401.5 100.2,402.8 101.2,404.8 102.2,405.7 103.2,407.0 104.2,407.0 105.2,408.3 106.2,408.8 107.2,411.6 108.2,412.6 109.2,414.5" fill="none" stroke="#000" stroke-width="4.61" stroke-linejoin="round" stroke-linecap="round"/>
<polyline points="109.2,414.5 110.2,414.7 111.2,415.2 112.2,415.6 113.2,416.1 114.2,417.5 115.2,418.7 116.2,420.9 117.2,421.9 118.2,423.1 119.2,423.7" fill="none" stroke="#000" stroke-width="4.71" stroke-linejoin="round" stroke-linecap="round"/>
<polyline points="119.2,423.7 120.2,424.5 121.2,425.8 122.2,426.6 123.2,427.4 124.2,428.6 125.2,429.8 126.2,431.3 127.2,433.3 128.2,433.7 129.2,435.8" fill="none" stroke="#000" stroke-width="4.82" stroke-linejoin="round" stroke-linecap="round"/>
<polyline points="129.2,435.8 130.2,435.4 131.2,437.1 132.2,437.4 133.2,438.8 134.2,439.8 135.2,440.7 136.2,441.6 137.2,442.2 138.2,443.3 139.2,444.4" fill="none" stroke="#000" stroke-width="4.93" stroke-linejoin="round" stroke-linecap="round"/>
<polyline points="139.2,444.4 140.2,446.6 141.2,448.5 142.2,451.1 143.2,452.2 144.2,453.9 145.2,454.2 146.2,454.3 147.2,456.2 148.2,455.3 149.2,457.7" fill="none" stroke="#000" stroke-width="5.05" stroke-linejoin="round" stroke-linecap="round"/>
<polyline points="149.2,457.7 150.2,456.5 151.2,458.8 152.2,458.2 153.2,460.7 154.2,461.5 155.2,462.7 156.2,465.0 157.2,465.2 158.2,466.0 159.2,465.9" fill="none" stroke="#000" stroke-width="5.17" stroke-linejoin="round" stroke-linecap="round"/>
<polyline points="159.2,465.9 160.2,467.3 161.2,468.3 162.2,469.7 163.2,470.4 164.2,470.3 165.2,470.6 166.2,471.1 167.2,471.5 168.2,473.2 169.2,474.8" fill="none" stroke="#000" stroke-width="5.30" stroke-linejoin="round" stroke-linecap="round"/>
<polyline points="169.2,474.8 170.2,476.0 171.2,477.2 172.2,475.9 173.2,477.6 174.2,476.8 175.2,479.3 176.2,477.7 177.2,478.4 178.2,477.2 179.2,477.5" fill="none" stroke="#000" stroke-width="5.44" stroke-linejoin="round" stroke-linecap="round"/>
<polyline points="179.2,477.5 180.2,478.6 181.2,478.4 182.2,479.7 183.2,478.4 184.2,481.0 185.2,480.1 186.2,483.2 187.2,481.5 188.2,483.4 189.2,481.1" fill="none" stroke="#000" stroke-width="5.58" stroke-linejoin="round" stroke-linecap="round"/>
<polyline points="189.2,481.1 190.2,483.0 191.2,482.1 192.2,483.1 193.2,483.9 194.2,484.4 195.2,485.6 196.2,486.5 197.2,486.6 198.2,486.1 199.2,485.2" fill="none" stroke="#000" stroke-width="5.72" stroke-linejoin="round" stroke-linecap="round"/>
<polyline points="199.2,485.2 200.2,485.5 201.2,486.6 202.2,485.5 203.2,488.7 204.2,488.4 205.2,489.4 206.2,490.9 207.2,490.9 208.2,491.0 209.2,490.2" fill="none" stroke="#000" stroke-width="5.87" stroke-linejoin="round" stroke-linecap="round"/>
<polyline points="209.2,490.2 210.2,491.8 211.2,492.6 212.2,492.2 213.2,494.3 214.2,494.3 215.2,492.3 216.2,495.0 217.2,494.3 218.2,497.7 219.2,498.0" fill="none" stroke="#000" stroke-width="6.03" stroke-linejoin="round" stroke-linecap="round"/>
<polyline points="219.2,498.0 220.2,497.1 221.2,497.9 222.2,500.0 223.2,500.9 224.2,503.9 225.2,504.3 226.2,504.0 227.2,506.0 228.2,504.3 229.2,508.2" fill="none" stroke="#000" stroke-width="6.18" stroke-linejoin="round" stroke-linecap="round"/>
<polyline points="229.2,508.2 230.2,509.9 231.2,510.2 232.2,510.9 233.2,513.3 234.2,515.8 235.2,515.0 236.2,514.1 237.2,518.0 238.2,515.0 239.2,519.5" fill="none" stroke="#000" stroke-width="6.35" stroke-linejoin="round" stroke-linecap="round"/>
<polyline points="239.2,519.5 240.2,519.1 241.2,522.7 242.2,521.7 243.2,525.4 244.2,524.9 245.2,523.4 246.2,524.1 247.2,527.2 248.2,530.6 249.2,530.2" fill="none" stroke="#000" stroke-width="6.51" stroke-linejoin="round" stroke-linecap="round"/>
<polyline points="249.2,530.2 250.2,531.1 251.2,531.2 252.2,533.0 253.2,532.9 254.2,533.4 255.2,532.2 256.2,535.5 257.2,536.5 258.2,533.4 259.2,538.8" fill="none" stroke="#000" stroke-width="6.68" stroke-linejoin="round" stroke-linecap="round"/>
<polyline points="259.2,538.8 260.2,536.8 261.2,535.7 262.2,534.0 263.2,538.0 264.2,538.1 265.2,537.0 266.2,535.5 267.2,540.0 268.2,538.1 269.2,538.9" fill="none" stroke="#000" stroke-width="6.86" stroke-linejoin="round" stroke-linecap="round"/>
<polyline points="269.2,538.9 270.2,544.2 271.2,543.5 272.2,542.1 273.2,539.9 274.2,541.9 275.2,537.5 276.2,541.6 277.2,540.4 278.2,540.1 279.2,539.9" fill="none" stroke="#000" stroke-width="7.04" stroke-linejoin="round" stroke-linecap="round"/>
<polyline points="279.2,539.9 280.2,543.7 281.2,543.5 282.2,544.0 283.2,545.3 284.2,542.8 285.2,542.4 286.2,541.8 287.2,544.5 288.2,546.7 289.2,545.4" fill="none" stroke="#000" stroke-width="7.22" stroke-linejoin="round" stroke-linecap="round"/>
<polyline points="289.2,545.4 290.2,547.1 291.2,544.2 292.2,545.7 293.2,545.5 294.2,544.9 295.2,550.7 296.2,549.2 297.2,546.6 298.2,546.9 299.2,548.3" fill="none" stroke="#000" stroke-width="7.41" stroke-linejoin="round" stroke-linecap="round"/>
<line x1="38.8" y1="356.8" x2="46" y2="366" stroke="#000" stroke-width="3"/>
<polyline points="160.2,469.2 162.2,470.7 164.2,472.9 166.2,475.1 168.2,477.3 170.2,479.5 172.2,481.7 174.2,483.9 176.2,486.1 178.2,488.3 180.2,490.4 182.2,492.4 184.2,494.3 186.2,496.1 188.2,498.0 190.2,500.0 192.2,502.3 194.2,504.4 196.2,506.4 198.2,508.1 200.2,509.7 202.2,511.3 204.2,513.0 206.2,514.7 208.2,516.5 210.2,518.1 212.2,519.6 214.2,520.9 216.2,522.2 218.2,523.4 220.2,524.7 222.2,525.9 224.2,527.1 226.2,528.2 228.2,529.3 230.2,530.3 232.2,531.2 234.2,532.1 236.2,533.0 238.2,533.9 240.2,534.8 242.2,535.7 244.2,536.6 246.2,537.4 248.2,538.1 250.2,538.7 252.2,539.3 254.2,539.8 256.2,540.3 258.2,540.8 260.2,541.3 262.2,541.7 264.2,542.2 266.2,542.6 268.2,543.1 270.2,543.5 272.2,543.9 274.2,544.3 276.2,544.7 278.2,545.1 280.2,545.5 282.2,545.9 284.2,546.3 286.2,546.6 288.2,546.9 290.2,547.2 292.2,547.5 294.2,547.8 296.2,548.0 298.2,548.2" fill="none" stroke="#000" stroke-width="3.3" stroke-dasharray="10.5 9.5" stroke-dashoffset="3"/>
<polyline points="158.0,474.8 160.0,476.4 162.0,478.8 164.0,481.2 166.0,483.5 168.0,485.6 170.0,487.7 172.0,489.6 174.0,491.7 176.0,493.9 178.0,496.2 180.0,498.3 182.0,500.1 184.0,501.7 186.0,503.3 188.0,505.0 190.0,506.9 192.0,508.9 194.0,510.8 196.0,512.6 198.0,514.2 200.0,515.7 202.0,517.3 204.0,518.8 206.0,520.2 208.0,521.6 210.0,523.0 212.0,524.3 214.0,525.6 216.0,526.8 218.0,528.1 220.0,529.2 222.0,530.2 224.0,531.1 226.0,532.0 228.0,532.9 230.0,533.8 232.0,534.8 234.0,535.7 236.0,536.6 238.0,537.4 240.0,538.1 242.0,538.7 244.0,539.4 246.0,540.0 248.0,540.6 250.0,541.2 252.0,541.7 254.0,542.3 256.0,542.7 258.0,543.1 260.0,543.3 262.0,543.6 264.0,543.9 266.0,544.1 268.0,544.4 270.0,544.6 272.0,544.8 274.0,545.0 276.0,545.2 278.0,545.4 280.0,545.5 282.0,545.7 284.0,545.9 286.0,546.1 288.0,546.3 290.0,546.5 292.0,546.7 294.0,547.0 296.0,547.2 298.0,547.3" fill="none" stroke="#c8203c" stroke-width="3.3" stroke-dasharray="10.5 9.5" stroke-dashoffset="14"/>
</g>
<rect x="167.5" y="451.7" width="92.3" height="98.59999999999997" fill="#7a7a7a" fill-opacity="0.29"/>
<rect x="38.8" y="356.6" width="260.4" height="193.69999999999993" fill="none" stroke="#262626" stroke-width="1.7"/>
<line x1="38.8" y1="550.3" x2="38.8" y2="546.8" stroke="#262626" stroke-width="1.4"/>
<line x1="38.8" y1="356.6" x2="38.8" y2="360.1" stroke="#262626" stroke-width="1.4"/>
<line x1="150.9" y1="550.3" x2="150.9" y2="546.8" stroke="#262626" stroke-width="1.4"/>
<line x1="150.9" y1="356.6" x2="150.9" y2="360.1" stroke="#262626" stroke-width="1.4"/>
<line x1="263.1" y1="550.3" x2="263.1" y2="546.8" stroke="#262626" stroke-width="1.4"/>
<line x1="263.1" y1="356.6" x2="263.1" y2="360.1" stroke="#262626" stroke-width="1.4"/>
<line x1="71.6" y1="550.3" x2="71.6" y2="548.3" stroke="#262626" stroke-width="1.4"/>
<line x1="71.6" y1="356.6" x2="71.6" y2="358.6" stroke="#262626" stroke-width="1.4"/>
<line x1="94.9" y1="550.3" x2="94.9" y2="548.3" stroke="#262626" stroke-width="1.4"/>
<line x1="94.9" y1="356.6" x2="94.9" y2="358.6" stroke="#262626" stroke-width="1.4"/>
<line x1="112.9" y1="550.3" x2="112.9" y2="548.3" stroke="#262626" stroke-width="1.4"/>
<line x1="112.9" y1="356.6" x2="112.9" y2="358.6" stroke="#262626" stroke-width="1.4"/>
<line x1="127.7" y1="550.3" x2="127.7" y2="548.3" stroke="#262626" stroke-width="1.4"/>
<line x1="127.7" y1="356.6" x2="127.7" y2="358.6" stroke="#262626" stroke-width="1.4"/>
<line x1="140.1" y1="550.3" x2="140.1" y2="548.3" stroke="#262626" stroke-width="1.4"/>
<line x1="140.1" y1="356.6" x2="140.1" y2="358.6" stroke="#262626" stroke-width="1.4"/>
<line x1="160.5" y1="550.3" x2="160.5" y2="548.3" stroke="#262626" stroke-width="1.4"/>
<line x1="160.5" y1="356.6" x2="160.5" y2="358.6" stroke="#262626" stroke-width="1.4"/>
<line x1="169.0" y1="550.3" x2="169.0" y2="548.3" stroke="#262626" stroke-width="1.4"/>
<line x1="169.0" y1="356.6" x2="169.0" y2="358.6" stroke="#262626" stroke-width="1.4"/>
<line x1="225.1" y1="550.3" x2="225.1" y2="548.3" stroke="#262626" stroke-width="1.4"/>
<line x1="225.1" y1="356.6" x2="225.1" y2="358.6" stroke="#262626" stroke-width="1.4"/>
<line x1="257.9" y1="550.3" x2="257.9" y2="548.3" stroke="#262626" stroke-width="1.4"/>
<line x1="257.9" y1="356.6" x2="257.9" y2="358.6" stroke="#262626" stroke-width="1.4"/>
<line x1="281.2" y1="550.3" x2="281.2" y2="548.3" stroke="#262626" stroke-width="1.4"/>
<line x1="281.2" y1="356.6" x2="281.2" y2="358.6" stroke="#262626" stroke-width="1.4"/>
<line x1="38.8" y1="398.8" x2="42.3" y2="398.8" stroke="#262626" stroke-width="1.4"/>
<line x1="299.2" y1="398.8" x2="295.7" y2="398.8" stroke="#262626" stroke-width="1.4"/>
<line x1="38.8" y1="448.0" x2="42.3" y2="448.0" stroke="#262626" stroke-width="1.4"/>
<line x1="299.2" y1="448.0" x2="295.7" y2="448.0" stroke="#262626" stroke-width="1.4"/>
<line x1="38.8" y1="497.3" x2="42.3" y2="497.3" stroke="#262626" stroke-width="1.4"/>
<line x1="299.2" y1="497.3" x2="295.7" y2="497.3" stroke="#262626" stroke-width="1.4"/>
<line x1="38.8" y1="546.7" x2="42.3" y2="546.7" stroke="#262626" stroke-width="1.4"/>
<line x1="299.2" y1="546.7" x2="295.7" y2="546.7" stroke="#262626" stroke-width="1.4"/>
<text x="38.0" y="577.3" font-size="23" fill="#262626" text-anchor="middle">20</text>
<text x="150.1" y="577.3" font-size="23" fill="#262626" text-anchor="middle">80</text>
<text x="262.3" y="577.3" font-size="23" fill="#262626" text-anchor="middle">320</text>
<text x="134.6" y="610.3" font-size="23.6" fill="#000">T (<tspan font-style="italic">μ</tspan>s)</text>
<text transform="translate(25.6 466) rotate(-90)" font-size="23" fill="#000" text-anchor="middle">Contrast(a.u.)</text>
<text x="68.2" y="542.4" font-size="23" fill="#000">C<tspan font-size="14.2" dy="-6.5" dx="0.6">13</tspan><tspan dy="6.5" dx="1.6"> revival</tspan></text>
<line x1="87.5" y1="376.7" x2="113.5" y2="376.7" stroke="#000" stroke-width="4.6"/>
<text x="114.6" y="383.2" font-size="17.3" fill="#000">Without <tspan class="m" font-size="20" stroke="#000" stroke-width="0.35">π</tspan><tspan dx="-1"> for NV_B(HE)</tspan></text>
<line x1="133.5" y1="402.2" x2="159.5" y2="402.2" stroke="#c8203c" stroke-width="4.6"/>
<text x="169.9" y="409.4" font-size="17.2" fill="#c8203c">With <tspan class="m" font-size="20" stroke="#c8203c" stroke-width="0.35">π</tspan><tspan dx="-1.6"> for NV_B</tspan></text>
<clipPath id="cd"><rect x="409.3" y="247.6" width="259.99999999999994" height="157.9"/></clipPath>
<g clip-path="url(#cd)" fill="none" stroke-width="2.6" stroke-linejoin="round">
<polyline points="409.7,250.2 411.2,253.6 412.7,259.0 414.2,265.6 415.7,272.8 417.2,280.9 418.7,287.8 420.2,293.1 421.7,297.4 423.2,301.1 424.7,304.5 426.2,307.6 427.7,310.8 429.2,313.7 430.7,316.3 432.2,319.0 433.7,321.7 435.2,324.3 436.7,326.8 438.2,329.3 439.7,331.7 441.2,334.0 442.7,336.1 444.2,338.0 445.7,340.1 447.2,342.4 448.7,344.6 450.2,346.5 451.7,348.6 453.2,350.7 454.7,352.8 456.2,354.9 457.7,357.1 459.2,359.1 460.7,361.0 462.2,362.5 463.7,364.4 465.2,366.2 466.7,368.1 468.2,369.9 469.7,371.8 471.2,373.5 472.7,374.6 474.2,375.8 475.7,377.1 477.2,378.7 478.7,380.2 480.2,381.9 481.7,383.8 483.2,385.8 484.7,387.8 486.2,389.8 487.7,391.9 489.2,393.5 490.7,394.4 492.2,395.1 493.7,395.6 495.2,396.4 496.7,397.3 498.2,397.8 499.7,397.8 501.2,397.5 502.7,397.5 504.2,397.2 505.7,396.9 507.2,396.6 508.7,396.5 510.2,395.7 511.7,394.7 513.2,394.0 514.7,393.8 516.2,393.9 517.7,394.1 519.2,394.4 520.7,394.5 522.2,395.0 523.7,395.3 525.2,395.6 526.7,395.5 528.2,395.9 529.7,396.4 531.2,397.0 532.7,397.2 534.2,397.6 535.7,397.8 537.2,398.0 538.7,398.2 540.2,398.8 541.7,399.2 543.2,399.5 544.7,399.6 546.2,400.1 547.7,400.4 549.2,400.5 550.7,400.4 552.2,400.5 553.7,401.0 555.2,401.5 556.7,401.6 558.2,401.7 559.7,401.8 561.2,401.9 562.7,402.1 564.2,402.2 565.7,402.3 567.2,402.3 568.7,402.6 570.2,402.7 571.7,403.1 573.2,403.4 574.7,403.6 576.2,403.3 577.7,403.2 579.2,403.1 580.7,403.4 582.2,403.3 583.7,403.5 585.2,403.7 586.7,403.8 588.2,403.5 589.7,403.4 591.2,403.6 592.7,403.8 594.2,404.1 595.7,404.2 597.2,404.2 598.7,404.1 600.2,404.3 601.7,404.3 603.2,404.4 604.7,404.2 606.2,404.0 607.7,403.8 609.2,404.1 610.7,404.2 612.2,404.3 613.7,404.0 615.2,404.0 616.7,404.0 618.2,403.9 619.7,403.9 621.2,404.3 622.7,404.4 624.2,404.3 625.7,403.9 627.2,403.8 628.7,403.9 630.2,404.2 631.7,404.3 633.2,404.3 634.7,404.2 636.2,404.2 637.7,404.0 639.2,403.9 640.7,404.0 642.2,404.1 643.7,404.1 645.2,404.0 646.7,404.0 648.2,404.2 649.7,404.3 651.2,404.2 652.7,404.2 654.2,404.4 655.7,404.6 657.2,404.3 658.7,404.2 660.2,404.1 661.7,404.3 663.2,404.3 664.7,404.5 666.2,404.6 667.7,404.6" stroke="#d4d4d4" stroke-width="3.0"/>
<polyline points="409.7,249.6 411.2,253.1 412.7,258.3 414.2,263.5 415.7,269.2 417.2,275.7 418.7,281.9 420.2,286.8 421.7,290.7 423.2,294.1 424.7,297.8 426.2,301.1 427.7,304.3 429.2,306.7 430.7,309.1 432.2,311.1 433.7,313.3 435.2,315.2 436.7,317.4 438.2,319.3 439.7,321.2 441.2,322.9 442.7,324.4 444.2,325.9 445.7,327.1 447.2,328.4 448.7,329.5 450.2,331.1 451.7,332.3 453.2,333.6 454.7,335.0 456.2,336.4 457.7,337.8 459.2,339.3 460.7,340.9 462.2,342.3 463.7,343.6 465.2,344.8 466.7,346.1 468.2,347.6 469.7,349.2 471.2,350.6 472.7,351.8 474.2,353.1 475.7,354.5 477.2,355.9 478.7,357.3 480.2,358.8 481.7,360.1 483.2,361.3 484.7,362.4 486.2,363.7 487.7,364.9 489.2,366.2 490.7,367.7 492.2,368.8 493.7,370.0 495.2,371.0 496.7,371.9 498.2,372.7 499.7,373.7 501.2,374.7 502.7,375.5 504.2,376.2 505.7,377.0 507.2,377.8 508.7,378.7 510.2,379.5 511.7,380.2 513.2,380.9 514.7,381.7 516.2,382.2 517.7,382.7 519.2,383.3 520.7,384.1 522.2,384.4 523.7,384.9 525.2,385.2 526.7,385.6 528.2,386.1 529.7,386.9 531.2,387.7 532.7,388.6 534.2,389.1 535.7,389.5 537.2,389.8 538.7,390.3 540.2,390.6 541.7,391.0 543.2,391.4 544.7,392.0 546.2,392.6 547.7,393.2 549.2,393.9 550.7,394.5 552.2,395.0 553.7,395.5 555.2,396.1 556.7,396.5 558.2,396.9 559.7,397.3 561.2,397.9 562.7,398.5 564.2,399.1 565.7,399.5 567.2,399.9 568.7,400.4 570.2,400.7 571.7,401.3 573.2,401.8 574.7,402.4 576.2,402.7 577.7,403.2 579.2,403.5 580.7,403.8 582.2,404.0 583.7,403.9 585.2,403.8 586.7,403.7 588.2,403.9 589.7,404.0 591.2,404.1 592.7,404.2 594.2,404.5 595.7,404.5 597.2,404.3 598.7,404.2 600.2,404.4 601.7,404.4 603.2,404.2 604.7,404.2 606.2,404.3 607.7,404.4 609.2,404.3 610.7,404.2 612.2,404.0 613.7,403.7 615.2,403.8 616.7,404.1 618.2,404.3 619.7,404.4 621.2,404.4 622.7,404.5 624.2,404.4 625.7,404.3 627.2,404.2 628.7,404.2 630.2,404.2 631.7,404.3 633.2,404.4 634.7,404.4 636.2,404.4 637.7,404.3 639.2,404.3 640.7,404.2 642.2,404.3 643.7,404.3 645.2,404.3 646.7,404.3 648.2,404.2 649.7,404.1 651.2,404.3 652.7,404.4 654.2,404.6 655.7,404.6 657.2,404.2 658.7,403.9 660.2,404.1 661.7,404.5 663.2,404.4 664.7,404.2 666.2,404.3 667.7,404.5" stroke="#bdbdbd" stroke-width="3.0"/>
<polyline points="409.7,249.7 411.2,253.7 412.7,259.7 414.2,266.6 415.7,274.1 417.2,282.4 418.7,289.4 420.2,294.9 421.7,299.1 423.2,302.7 424.7,306.1 426.2,309.3 427.7,312.8 429.2,316.0 430.7,318.6 432.2,320.9 433.7,323.4 435.2,326.0 436.7,328.5 438.2,331.1 439.7,333.5 441.2,335.8 442.7,337.9 444.2,339.9 445.7,342.2 447.2,344.2 448.7,345.9 450.2,347.6 451.7,349.4 453.2,351.0 454.7,352.7 456.2,354.4 457.7,356.2 459.2,357.8 460.7,359.4 462.2,361.0 463.7,362.6 465.2,364.2 466.7,365.7 468.2,367.3 469.7,368.7 471.2,370.0 472.7,371.1 474.2,372.4 475.7,373.9 477.2,375.2 478.7,376.5 480.2,377.7 481.7,378.9 483.2,380.1 484.7,380.8 486.2,381.6 487.7,382.2 489.2,383.0 490.7,383.6 492.2,384.6 493.7,385.5 495.2,386.6 496.7,387.3 498.2,387.9 499.7,388.3 501.2,388.5 502.7,388.8 504.2,389.2 505.7,389.6 507.2,390.0 508.7,390.2 510.2,390.7 511.7,391.1 513.2,391.4 514.7,391.7 516.2,392.2 517.7,392.5 519.2,392.9 520.7,393.2 522.2,393.5 523.7,393.6 525.2,394.2 526.7,394.7 528.2,395.1 529.7,395.3 531.2,395.7 532.7,396.1 534.2,396.4 535.7,396.8 537.2,397.2 538.7,397.6 540.2,398.0 541.7,398.4 543.2,398.8 544.7,399.3 546.2,399.6 547.7,399.6 549.2,399.5 550.7,399.8 552.2,400.1 553.7,400.5 555.2,400.8 556.7,400.9 558.2,401.1 559.7,401.3 561.2,401.6 562.7,401.9 564.2,402.2 565.7,402.6 567.2,403.0 568.7,403.0 570.2,403.2 571.7,403.6 573.2,403.8 574.7,403.9 576.2,404.0 577.7,404.1 579.2,403.9 580.7,403.8 582.2,403.9 583.7,404.1 585.2,404.2 586.7,404.2 588.2,404.4 589.7,404.3 591.2,404.2 592.7,404.1 594.2,404.1 595.7,404.0 597.2,404.0 598.7,404.2 600.2,404.3 601.7,404.3 603.2,404.3 604.7,404.4 606.2,404.5 607.7,404.5 609.2,404.5 610.7,404.6 612.2,404.6 613.7,404.6 615.2,404.4 616.7,404.3 618.2,404.2 619.7,404.2 621.2,404.4 622.7,404.6 624.2,404.6 625.7,404.3 627.2,404.3 628.7,404.5 630.2,404.5 631.7,404.4 633.2,404.4 634.7,404.3 636.2,404.0 637.7,404.0 639.2,404.3 640.7,404.4 642.2,404.3 643.7,404.2 645.2,404.2 646.7,404.1 648.2,404.2 649.7,404.3 651.2,404.5 652.7,404.4 654.2,404.1 655.7,404.1 657.2,404.1 658.7,404.2 660.2,404.0 661.7,404.2 663.2,404.5 664.7,404.5 666.2,404.4 667.7,404.4" stroke="#a2a2a2" stroke-width="3.0"/>
<polyline points="409.7,249.9 411.2,252.3 412.7,256.2 414.2,260.3 415.7,265.1 417.2,269.8 418.7,274.7 420.2,279.5 421.7,284.0 423.2,287.8 424.7,291.1 426.2,294.3 427.7,297.7 429.2,300.9 430.7,304.0 432.2,306.7 433.7,309.4 435.2,311.8 436.7,314.2 438.2,316.3 439.7,318.2 441.2,319.8 442.7,321.5 444.2,322.9 445.7,324.2 447.2,325.7 448.7,327.4 450.2,329.0 451.7,330.2 453.2,331.4 454.7,332.4 456.2,333.5 457.7,334.6 459.2,335.7 460.7,336.6 462.2,337.5 463.7,338.3 465.2,339.3 466.7,340.4 468.2,341.3 469.7,342.4 471.2,343.4 472.7,344.4 474.2,345.3 475.7,346.6 477.2,347.7 478.7,348.8 480.2,349.8 481.7,350.7 483.2,351.6 484.7,352.7 486.2,353.8 487.7,354.6 489.2,355.3 490.7,356.1 492.2,357.0 493.7,358.2 495.2,359.2 496.7,360.2 498.2,361.2 499.7,362.1 501.2,362.9 502.7,363.8 504.2,364.6 505.7,365.3 507.2,365.9 508.7,366.8 510.2,367.7 511.7,368.6 513.2,369.3 514.7,370.1 516.2,370.9 517.7,371.7 519.2,372.3 520.7,373.0 522.2,373.6 523.7,374.3 525.2,374.9 526.7,375.8 528.2,376.4 529.7,377.0 531.2,377.7 532.7,378.5 534.2,378.9 535.7,379.4 537.2,380.0 538.7,380.8 540.2,381.2 541.7,381.8 543.2,382.3 544.7,383.1 546.2,383.5 547.7,384.0 549.2,384.5 550.7,384.9 552.2,385.1 553.7,385.7 555.2,386.3 556.7,386.8 558.2,387.3 559.7,387.7 561.2,388.1 562.7,388.6 564.2,388.8 565.7,389.0 567.2,389.2 568.7,389.7 570.2,390.0 571.7,390.3 573.2,390.9 574.7,391.2 576.2,391.7 577.7,392.4 579.2,393.1 580.7,393.3 582.2,393.5 583.7,393.6 585.2,394.0 586.7,394.3 588.2,394.7 589.7,395.1 591.2,395.6 592.7,396.0 594.2,396.5 595.7,396.6 597.2,396.5 598.7,396.7 600.2,397.1 601.7,397.5 603.2,397.8 604.7,398.1 606.2,398.3 607.7,398.6 609.2,398.9 610.7,398.9 612.2,399.2 613.7,399.5 615.2,399.9 616.7,400.0 618.2,400.3 619.7,400.4 621.2,400.6 622.7,400.6 624.2,400.7 625.7,400.8 627.2,400.9 628.7,401.1 630.2,401.2 631.7,401.6 633.2,401.8 634.7,401.9 636.2,402.1 637.7,402.4 639.2,402.5 640.7,402.6 642.2,402.8 643.7,402.7 645.2,402.5 646.7,402.6 648.2,402.9 649.7,403.0 651.2,403.0 652.7,403.1 654.2,403.4 655.7,403.6 657.2,403.6 658.7,403.6 660.2,403.6 661.7,404.0 663.2,404.4 664.7,404.6 666.2,404.5 667.7,404.3" stroke="#808080" stroke-width="3.2"/>
<polyline points="409.7,249.8 411.2,253.2 412.7,258.1 414.2,263.2 415.7,268.4 417.2,273.8 418.7,279.5 420.2,284.5 421.7,288.6 423.2,292.0 424.7,295.6 426.2,299.0 427.7,302.1 429.2,304.9 430.7,307.6 432.2,310.2 433.7,312.7 435.2,315.0 436.7,317.3 438.2,319.3 439.7,321.2 441.2,322.9 442.7,324.8 444.2,326.6 445.7,328.4 447.2,329.7 448.7,330.9 450.2,332.1 451.7,333.3 453.2,334.1 454.7,335.0 456.2,335.9 457.7,336.9 459.2,338.0 460.7,339.0 462.2,339.9 463.7,340.8 465.2,341.8 466.7,342.7 468.2,343.5 469.7,344.5 471.2,345.3 472.7,346.2 474.2,347.3 475.7,348.2 477.2,349.1 478.7,350.0 480.2,351.0 481.7,352.1 483.2,353.2 484.7,354.1 486.2,354.8 487.7,355.8 489.2,356.9 490.7,357.9 492.2,358.8 493.7,359.8 495.2,360.8 496.7,361.6 498.2,362.3 499.7,363.0 501.2,363.9 502.7,364.6 504.2,365.4 505.7,366.2 507.2,367.3 508.7,368.3 510.2,369.0 511.7,369.6 513.2,370.3 514.7,371.0 516.2,371.6 517.7,372.2 519.2,373.2 520.7,374.0 522.2,374.7 523.7,375.1 525.2,375.7 526.7,376.6 528.2,377.3 529.7,377.9 531.2,378.4 532.7,379.0 534.2,379.5 535.7,379.9 537.2,380.4 538.7,381.0 540.2,381.7 541.7,382.4 543.2,382.9 544.7,383.4 546.2,383.9 547.7,384.4 549.2,384.9 550.7,385.4 552.2,385.6 553.7,386.0 555.2,386.2 556.7,386.5 558.2,386.8 559.7,387.4 561.2,388.0 562.7,388.7 564.2,389.2 565.7,389.4 567.2,389.6 568.7,390.2 570.2,390.7 571.7,391.0 573.2,391.4 574.7,391.8 576.2,392.1 577.7,392.3 579.2,392.6 580.7,393.0 582.2,393.3 583.7,393.6 585.2,394.1 586.7,394.5 588.2,394.9 589.7,395.1 591.2,395.4 592.7,395.6 594.2,395.8 595.7,396.2 597.2,396.5 598.7,396.8 600.2,396.9 601.7,397.3 603.2,397.5 604.7,397.9 606.2,398.1 607.7,398.3 609.2,398.5 610.7,399.0 612.2,399.3 613.7,399.4 615.2,399.4 616.7,399.6 618.2,399.9 619.7,400.1 621.2,400.3 622.7,400.3 624.2,400.4 625.7,400.5 627.2,400.8 628.7,401.1 630.2,401.4 631.7,401.5 633.2,401.6 634.7,401.6 636.2,401.7 637.7,402.0 639.2,402.1 640.7,402.3 642.2,402.3 643.7,402.4 645.2,402.7 646.7,402.9 648.2,403.0 649.7,402.9 651.2,403.3 652.7,403.4 654.2,403.4 655.7,403.3 657.2,403.4 658.7,403.6 660.2,403.8 661.7,404.1 663.2,404.1 664.7,404.2 666.2,404.2 667.7,404.2" stroke="#666666" stroke-width="3.2"/>
<polyline points="411.2,305.1 412.7,295.6 414.2,286.1 415.7,279.5 417.2,277.6 418.7,275.6 420.2,275.0 421.7,277.4 423.2,279.8 424.7,281.9 426.2,284.8 427.7,288.1 429.2,291.5 430.7,294.8 432.2,297.9 433.7,300.8 435.2,304.0 436.7,307.0 438.2,309.9 439.7,312.8 441.2,315.6 442.7,317.5 444.2,319.4 445.7,321.4 447.2,323.6 448.7,325.5 450.2,327.4 451.7,328.6 453.2,329.9 454.7,331.2 456.2,332.3 457.7,333.4 459.2,334.9 460.7,336.1 462.2,337.1 463.7,338.1 465.2,338.9 466.7,339.4 468.2,340.0 469.7,341.1 471.2,342.3 472.7,343.1 474.2,344.0 475.7,345.4 477.2,346.9 478.7,348.2 480.2,349.3 481.7,350.2 483.2,351.1 484.7,351.9 486.2,353.0 487.7,353.9 489.2,354.9 490.7,356.1 492.2,357.3 493.7,358.4 495.2,359.3 496.7,360.3 498.2,361.0 499.7,361.6 501.2,362.3 502.7,363.2 504.2,364.1 505.7,365.1 507.2,365.9 508.7,366.7 510.2,367.3 511.7,368.2 513.2,369.1 514.7,369.9 516.2,370.5 517.7,371.1 519.2,371.9 520.7,372.7 522.2,373.3 523.7,374.0 525.2,374.8 526.7,375.3 528.2,375.6 529.7,376.4 531.2,377.3 532.7,378.1 534.2,378.3 535.7,378.9 537.2,379.4 538.7,379.9 540.2,380.2 541.7,380.6 543.2,381.1 544.7,381.7 546.2,382.0 547.7,382.5 549.2,383.0 550.7,383.5 552.2,383.9 553.7,384.5 555.2,385.0 556.7,385.3 558.2,385.6 559.7,386.2 561.2,386.5 562.7,386.9 564.2,387.2 565.7,387.8 567.2,388.3 568.7,388.6 570.2,389.2 571.7,389.8 573.2,390.1 574.7,390.1 576.2,390.5 577.7,391.1 579.2,391.4 580.7,391.8 582.2,392.0 583.7,392.4 585.2,392.8 586.7,393.5 588.2,394.0 589.7,394.2 591.2,394.5 592.7,394.8 594.2,395.2 595.7,395.5 597.2,395.9 598.7,396.2 600.2,396.4 601.7,396.6 603.2,396.7 604.7,397.0 606.2,397.2 607.7,397.5 609.2,397.6 610.7,397.9 612.2,398.4 613.7,398.7 615.2,398.9 616.7,399.3 618.2,399.5 619.7,399.5 621.2,399.7 622.7,399.9 624.2,400.0 625.7,399.9 627.2,400.1 628.7,400.3 630.2,400.5 631.7,400.5 633.2,400.8 634.7,401.1 636.2,401.5 637.7,401.7 639.2,401.9 640.7,401.9 642.2,402.2 643.7,402.3 645.2,402.4 646.7,402.3 648.2,402.6 649.7,402.9 651.2,403.2 652.7,403.2 654.2,403.4 655.7,403.5 657.2,403.7 658.7,403.6 660.2,403.7 661.7,403.9 663.2,404.3 664.7,404.6 666.2,404.6 667.7,404.4" stroke="#4f4f4f" stroke-width="3.0"/>
<polyline points="412.8,313.1 414.3,302.4 415.8,291.7 417.3,285.7 418.8,284.8 420.3,283.8 421.8,282.7 423.3,281.7 424.8,283.7 426.3,286.2 427.8,289.2 429.3,292.2 430.8,295.5 432.3,299.2 433.8,302.7 435.3,306.0 436.8,309.6 438.3,313.1 439.8,316.7 441.3,320.1 442.8,323.5 444.3,326.4 445.8,329.3 447.3,332.0 448.8,334.7 450.3,337.0 451.8,339.0 453.3,341.0 454.8,342.8 456.3,344.4 457.8,345.9 459.3,347.3 460.8,348.7 462.3,349.4 463.8,350.4 465.3,351.3 466.8,352.2 468.3,352.9 469.8,353.6 471.3,354.0 472.8,354.5 474.3,354.9 475.8,355.1 477.3,355.3 478.8,355.6 480.3,356.2 481.8,357.1 483.3,357.7 484.8,358.2 486.3,358.6 487.8,359.4 489.3,360.2 490.8,360.7 492.3,361.2 493.8,361.8 495.3,362.8 496.8,363.6 498.3,364.3 499.8,364.9 501.3,365.8 502.8,366.6 504.3,367.3 505.8,368.2 507.3,369.1 508.8,369.8 510.3,370.3 511.8,371.0 513.3,371.7 514.8,372.5 516.3,373.2 517.8,373.8 519.3,374.3 520.8,374.8 522.3,375.3 523.8,376.1 525.3,376.9 526.8,377.5 528.3,378.1 529.8,378.8 531.3,379.6 532.8,380.1 534.3,380.6 535.8,381.1 537.3,381.7 538.8,382.3 540.3,382.8 541.8,383.3 543.3,383.7 544.8,384.4 546.3,384.9 547.8,385.5 549.3,386.1 550.8,386.5 552.3,386.8 553.8,387.0 555.3,387.1 556.8,387.5 558.3,387.8 559.8,388.3 561.3,388.5 562.8,388.9 564.3,389.0 565.8,389.4 567.3,389.7 568.8,390.2 570.3,390.5 571.8,390.9 573.3,391.0 574.8,391.3 576.3,391.6 577.8,392.2 579.3,392.7 580.8,392.9 582.3,393.1 583.8,393.2 585.3,393.7 586.8,393.9 588.3,394.3 589.8,394.7 591.3,395.2 592.8,395.4 594.3,395.8 595.8,396.0 597.3,396.1 598.8,396.4 600.3,396.8 601.8,397.2 603.3,397.4 604.8,397.8 606.3,398.0 607.8,398.2 609.3,398.5 610.8,398.8 612.3,399.2 613.8,399.5 615.3,399.7 616.8,399.8 618.3,399.9 619.8,399.9 621.3,400.2 622.8,400.6 624.3,400.9 625.8,400.7 627.3,400.6 628.8,400.8 630.3,401.2 631.8,401.4 633.3,401.6 634.8,401.8 636.3,401.8 637.8,401.9 639.3,401.9 640.8,402.2 642.3,402.4 643.8,402.8 645.3,403.0 646.8,402.9 648.3,402.8 649.8,402.9 651.3,403.1 652.8,403.2 654.3,403.3 655.8,403.7 657.3,403.8 658.8,403.8 660.3,404.0 661.8,404.2 663.3,404.1 664.8,404.1 666.3,404.2 667.8,404.4" stroke="#363636" stroke-width="3.0"/>
</g>
<rect x="409.3" y="247.6" width="259.99999999999994" height="156.9" fill="none" stroke="#262626" stroke-width="1.7"/>
<line x1="409.3" y1="404.5" x2="409.3" y2="401.0" stroke="#262626" stroke-width="1.4"/>
<line x1="409.3" y1="247.6" x2="409.3" y2="251.1" stroke="#262626" stroke-width="1.4"/>
<text x="408.6" y="431" font-size="23" fill="#262626" text-anchor="middle">0</text>
<line x1="518.0" y1="404.5" x2="518.0" y2="401.0" stroke="#262626" stroke-width="1.4"/>
<line x1="518.0" y1="247.6" x2="518.0" y2="251.1" stroke="#262626" stroke-width="1.4"/>
<text x="517.3" y="431" font-size="23" fill="#262626" text-anchor="middle">500</text>
<line x1="626.7" y1="404.5" x2="626.7" y2="401.0" stroke="#262626" stroke-width="1.4"/>
<line x1="626.7" y1="247.6" x2="626.7" y2="251.1" stroke="#262626" stroke-width="1.4"/>
<text x="626.0" y="431" font-size="23" fill="#262626" text-anchor="middle">1000</text>
<line x1="409.3" y1="264.3" x2="412.8" y2="264.3" stroke="#262626" stroke-width="1.4"/>
<line x1="669.3" y1="264.3" x2="665.8" y2="264.3" stroke="#262626" stroke-width="1.4"/>
<line x1="409.3" y1="334.4" x2="412.8" y2="334.4" stroke="#262626" stroke-width="1.4"/>
<line x1="669.3" y1="334.4" x2="665.8" y2="334.4" stroke="#262626" stroke-width="1.4"/>
<text x="514.3" y="455.8" font-size="23.6" fill="#000">T (<tspan font-style="italic">μ</tspan>s)</text>
<text transform="translate(394.6 328.6) rotate(-90)" font-size="23" fill="#000" text-anchor="middle">Contrast(a.u.)</text>
<text x="498.2" y="278.7" font-size="19.5" fill="#d2d2d2">XY8-1</text>
<text x="588.8" y="278.7" font-size="19.5" fill="#3a3a3a">XY8-8</text>
<defs><linearGradient id="ga" x1="0" x2="1" y1="0" y2="0"><stop offset="0" stop-color="#d6d6d6"/><stop offset="0.6" stop-color="#5a5a5a"/><stop offset="1" stop-color="#555"/></linearGradient></defs>
<path d="M557.7 267.2 L573.5 267.2 L573.5 259 L585.8 271.2 L573.5 283.4 L573.5 275.2 L557.7 275.2 Z" fill="url(#ga)"/>
<rect x="414.5" y="473.7" width="246.39999999999998" height="118.40000000000003" fill="none" stroke="#262626" stroke-width="1.7"/>
<line x1="449.7" y1="592.1" x2="449.7" y2="589.1" stroke="#262626" stroke-width="1.4"/>
<line x1="449.7" y1="473.7" x2="449.7" y2="476.7" stroke="#262626" stroke-width="1.4"/>
<text x="448.7" y="618.3" font-size="23" fill="#262626" text-anchor="middle">2</text>
<line x1="520.1" y1="592.1" x2="520.1" y2="589.1" stroke="#262626" stroke-width="1.4"/>
<line x1="520.1" y1="473.7" x2="520.1" y2="476.7" stroke="#262626" stroke-width="1.4"/>
<text x="519.1" y="618.3" font-size="23" fill="#262626" text-anchor="middle">4</text>
<line x1="590.5" y1="592.1" x2="590.5" y2="589.1" stroke="#262626" stroke-width="1.4"/>
<line x1="590.5" y1="473.7" x2="590.5" y2="476.7" stroke="#262626" stroke-width="1.4"/>
<text x="589.5" y="618.3" font-size="23" fill="#262626" text-anchor="middle">6</text>
<line x1="660.9" y1="592.1" x2="660.9" y2="589.1" stroke="#262626" stroke-width="1.4"/>
<line x1="660.9" y1="473.7" x2="660.9" y2="476.7" stroke="#262626" stroke-width="1.4"/>
<text x="659.9" y="618.3" font-size="23" fill="#262626" text-anchor="middle">8</text>
<line x1="414.5" y1="592.1" x2="417.5" y2="592.1" stroke="#262626" stroke-width="1.4"/>
<line x1="660.9" y1="592.1" x2="657.9" y2="592.1" stroke="#262626" stroke-width="1.4"/>
<text x="408.8" y="600.5" font-size="23" fill="#262626" text-anchor="end">2</text>
<line x1="414.5" y1="532.9" x2="417.5" y2="532.9" stroke="#262626" stroke-width="1.4"/>
<line x1="660.9" y1="532.9" x2="657.9" y2="532.9" stroke="#262626" stroke-width="1.4"/>
<text x="408.8" y="541.3" font-size="23" fill="#262626" text-anchor="end">4</text>
<line x1="414.5" y1="473.7" x2="417.5" y2="473.7" stroke="#262626" stroke-width="1.4"/>
<line x1="660.9" y1="473.7" x2="657.9" y2="473.7" stroke="#262626" stroke-width="1.4"/>
<text x="408.8" y="482.1" font-size="23" fill="#262626" text-anchor="end">6</text>
<circle cx="414.6" cy="484.8" r="5.4" fill="#0072bd"/>
<circle cx="449.3" cy="541.7" r="5.4" fill="#0072bd"/>
<circle cx="519.8" cy="561.8" r="5.4" fill="#0072bd"/>
<circle cx="555.1" cy="561.3" r="5.4" fill="#0072bd"/>
<circle cx="590.4" cy="570.9" r="5.4" fill="#0072bd"/>
<circle cx="660.9" cy="565.4" r="5.4" fill="#0072bd"/>
<line x1="414.5" y1="562.6" x2="660.9" y2="562.6" stroke="#d95319" stroke-width="5.6"/>
<text x="431.3" y="637.9" font-size="23.4" fill="#000">Number of repeat N</text>
<text transform="translate(379.7 537.3) rotate(-90)" font-size="23.6" fill="#000" text-anchor="middle">1/T_2(kHz)</text>
</svg></body></html>
